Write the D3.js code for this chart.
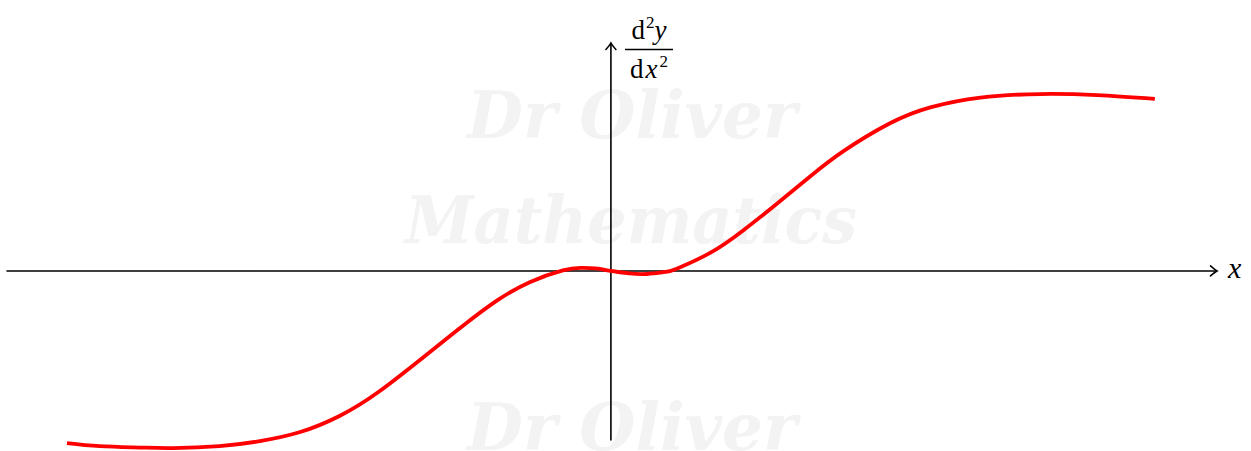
<!DOCTYPE html>
<html>
<head>
<meta charset="utf-8">
<script src="https://cdn.jsdelivr.net/npm/d3@7"></script>
<style>
  html, body { margin: 0; padding: 0; background: #ffffff; }
  svg { display: block; }
</style>
</head>
<body>
<svg id="chart" width="1251" height="451"></svg>
<script>
// Sampled values of the second derivative, d²y/dx², against x
const xValues = [-4.99, -4.69, -4.32, -4.02, -3.59, -3.22, -2.85, -2.49, -2.12, -1.66,
                 -1.36, -1.05, -0.74, -0.44, -0.28, -0.14, 0, 0.17, 0.33, 0.50,
                 0.61, 0.91, 1.21, 1.52, 1.83, 2.13, 2.56, 2.93, 3.39, 3.94, 4.46, 4.99];
const yValues = [-1.578, -1.606, -1.619, -1.624, -1.606, -1.560, -1.477, -1.330, -1.101, -0.743,
                 -0.505, -0.275, -0.101, 0.005, 0.028, 0.023, 0, -0.023, -0.028, -0.009,
                 0.023, 0.165, 0.369, 0.614, 0.868, 1.096, 1.354, 1.500, 1.590, 1.622, 1.612, 1.578];

// Extent of the drawn axes
const xDomain = [-5.54, 5.56];
const yDomain = [-1.55, 2.09];

const axisLabelX = "x";
const watermarkLines = ["Dr Oliver", "Mathematics", "Dr Oliver"];

const svg = d3.select("#chart");

const x = d3.scaleLinear().domain(xDomain).range([7, 1217]);
const y = d3.scaleLinear().domain(yDomain).range([440, 43]);

// Faint watermark behind everything
const wm = svg.append("g")
  .attr("fill", "#f3f3f3")
  .attr("font-family", "'DejaVu Serif', serif")
  .attr("font-style", "italic")
  .attr("font-weight", "bold");
const wmSpec = [
  { text: watermarkLines[0], cx: 632, base: 138, size: 66, w: 330 },
  { text: watermarkLines[1], cx: 631, base: 243, size: 66, w: 452 },
  { text: watermarkLines[2], cx: 632, base: 450, size: 66, w: 330 }
];
wm.selectAll("text").data(wmSpec).join("text")
  .attr("x", d => d.cx - d.w / 2)
  .attr("y", d => d.base)
  .attr("font-size", d => d.size)
  .attr("textLength", d => d.w)
  .attr("lengthAdjust", "spacingAndGlyphs")
  .text(d => d.text);

// Axes
const axes = svg.append("g")
  .attr("stroke", "#000")
  .attr("stroke-width", 1.6)
  .attr("fill", "none")
  .attr("stroke-linecap", "round");

axes.append("line")
  .attr("x1", x(xDomain[0])).attr("y1", y(0))
  .attr("x2", x(xDomain[1]) - 1).attr("y2", y(0));
axes.append("line")
  .attr("x1", x(0)).attr("y1", y(yDomain[0]))
  .attr("x2", x(0)).attr("y2", y(yDomain[1]) + 1);

// Arrow heads in the curved "to" style
function arrowRight(tx, ty) {
  return `M${tx - 6.5},${ty - 5} Q${tx - 2},${ty - 1} ${tx},${ty} Q${tx - 2},${ty + 1} ${tx - 6.5},${ty + 5}`;
}
function arrowUp(tx, ty) {
  return `M${tx - 5},${ty + 6.5} Q${tx - 1},${ty + 2} ${tx},${ty} Q${tx + 1},${ty + 2} ${tx + 5},${ty + 6.5}`;
}
axes.append("path").attr("d", arrowRight(x(xDomain[1]), y(0)));
axes.append("path").attr("d", arrowUp(x(0), y(yDomain[1])));

// The curve, drawn as a smooth natural spline through the samples
const pts = xValues.map((v, i) => [v, yValues[i]]);
svg.append("path")
  .datum(pts)
  .attr("fill", "none")
  .attr("stroke", "#ff0000")
  .attr("stroke-width", 3.8)
  .attr("stroke-linecap", "butt")
  .attr("stroke-linejoin", "round")
  .attr("d", d3.line().x(d => x(d[0])).y(d => y(d[1])).curve(d3.curveNatural));

// Axis labels
const serif = "'Liberation Serif', 'Times New Roman', serif";
svg.append("text")
  .attr("x", x(xDomain[1]) + 11)
  .attr("y", y(0) + 7)
  .attr("font-family", serif)
  .attr("font-style", "italic")
  .attr("font-size", 30)
  .text(axisLabelX);

// d²y / dx² as a stacked fraction
const frac = svg.append("g").attr("font-family", serif).attr("font-size", 27);
const fracX = 649;
const num = frac.append("text").attr("x", fracX).attr("y", 39).attr("text-anchor", "middle");
num.append("tspan").text("d");
num.append("tspan").attr("font-size", 17).attr("dx", 1).attr("dy", -11).text("2");
num.append("tspan").attr("font-style", "italic").attr("dy", 11).text("y");

frac.append("line")
  .attr("x1", 625).attr("x2", 673)
  .attr("y1", 49.5).attr("y2", 49.5)
  .attr("stroke", "#000").attr("stroke-width", 1.3);

const den = frac.append("text").attr("x", fracX).attr("y", 78).attr("text-anchor", "middle");
den.append("tspan").text("d");
den.append("tspan").attr("font-style", "italic").attr("dx", 2).text("x");
den.append("tspan").attr("font-size", 17).attr("dx", 2).attr("dy", -11).text("2");
</script>
</body>
</html>
